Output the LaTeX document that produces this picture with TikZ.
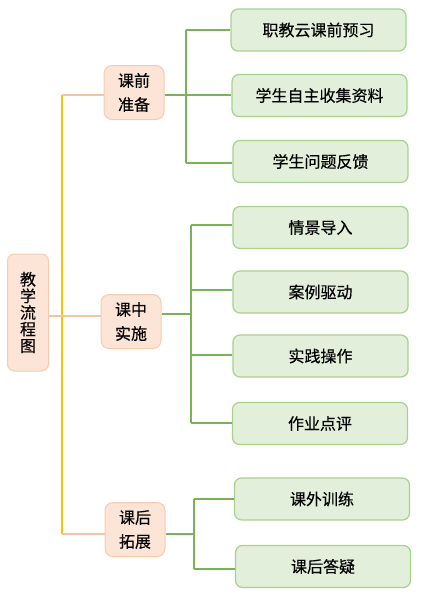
\documentclass[tikz,border=0pt]{standalone}
\usepackage{fontspec}
\setmainfont{Noto Sans CJK SC}[FakeBold=0.3]
\begin{document}
\begin{tikzpicture}[x=1pt,y=-1pt,
  rootbox/.style={draw=orbd, fill=orfill, line width=1pt, rounded corners=7pt, minimum width=41pt, minimum height=117pt, inner sep=0pt, align=center, font=\fontsize{16}{16.6}\selectfont},
  lonebox/.style={draw=orbd, fill=orfill, line width=1pt, rounded corners=8pt, minimum width=60pt, minimum height=54pt, inner sep=0pt, align=center, font=\fontsize{16}{24}\selectfont},
  leafbox/.style={draw=grbd, fill=grfill, line width=1.2pt, rounded corners=7pt, minimum width=175pt, minimum height=42pt, inner sep=0pt, font=\fontsize{16}{18}\selectfont},
  yline/.style={draw=yel, line width=2.2pt},
  oline/.style={draw=orln, line width=2.6pt},
  gline/.style={draw=grln, line width=2.8pt},
]
\definecolor{orfill}{HTML}{FCE4D6}
\definecolor{orbd}{HTML}{F8CBAD}
\definecolor{grfill}{HTML}{E2EFDA}
\definecolor{grbd}{HTML}{A9D18E}
\definecolor{yel}{HTML}{FFC000}
\definecolor{orln}{HTML}{F8C3A0}
\definecolor{grln}{HTML}{7AB356}
\useasboundingbox (0,0) rectangle (423,598);

% root
\node[rootbox] (root) at (28,312.5) {教\\学\\流\\程\\图};

% level 1
\node[lonebox] (p1) at (134,92.5) {课前\\准备};
\node[lonebox] (p2) at (131,321.5) {课中\\实施};
\node[lonebox] (p3) at (135,529.5) {课后\\拓展};

% leaves
\node[leafbox] (a1) at (318.5,30) {职教云课前预习};
\node[leafbox] (a2) at (319.5,95.5) {学生自主收集资料};
\node[leafbox] (a3) at (320.5,161.5) {学生问题反馈};
\node[leafbox] (b1) at (320.5,227.5) {情景导入};
\node[leafbox] (b2) at (320.5,292) {案例驱动};
\node[leafbox] (b3) at (320.5,356) {实践操作};
\node[leafbox] (b4) at (320,423.5) {作业点评};
\node[leafbox] (c1) at (322,499) {课外训练};
\node[leafbox] (c2) at (323,566.5) {课后答疑};

% root connectors
\coordinate (yt) at (62,95);
\coordinate (yb) at (62,534);
\coordinate (ym) at (62,316);
\draw[yline] (yt) -- (yb);
\draw[oline] (yt) -- (yt -| p1.west);
\draw[oline] (root.east |- ym) -- (ym -| p2.west);
\draw[oline] (yb) -- (yb -| p3.west);

% group 1
\coordinate (g1t) at (186,30);
\coordinate (g1m) at (186,95);
\coordinate (g1b) at (186,163);
\draw[gline] (g1t) -- (g1b);
\draw[gline] (p1.east |- g1m) -- (g1m -| a2.west);
\draw[gline] (g1t) -- (g1t -| a1.west);
\draw[gline] (g1b) -- (g1b -| a3.west);

% group 2
\coordinate (g2t) at (191,225);
\coordinate (g2a) at (191,290);
\coordinate (g2m) at (191,314);
\coordinate (g2c) at (191,355);
\coordinate (g2b) at (191,423);
\draw[gline] (g2t) -- (g2b);
\draw[gline] (p2.east |- g2m) -- (g2m);
\draw[gline] (g2t) -- (g2t -| b1.west);
\draw[gline] (g2a) -- (g2a -| b2.west);
\draw[gline] (g2c) -- (g2c -| b3.west);
\draw[gline] (g2b) -- (g2b -| b4.west);

% group 3
\coordinate (g3t) at (194,499);
\coordinate (g3m) at (194,534);
\coordinate (g3b) at (194,569);
\draw[gline] (g3t) -- (g3b);
\draw[gline] (p3.east |- g3m) -- (g3m);
\draw[gline] (g3t) -- (g3t -| c1.west);
\draw[gline] (g3b) -- (g3b -| c2.west);
\end{tikzpicture}
\end{document}
